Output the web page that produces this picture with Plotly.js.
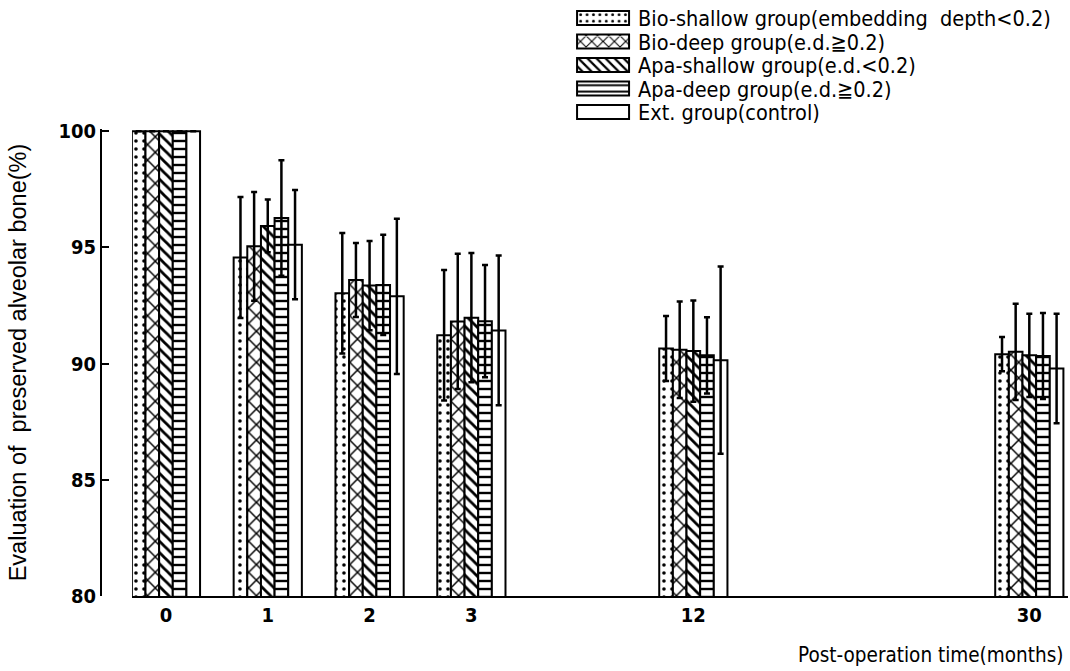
<!DOCTYPE html>
<html>
<head>
<meta charset="utf-8">
<script src="https://cdn.plot.ly/plotly-3.0.1.min.js"></script>
<style>html,body{margin:0;padding:0;background:#fff;}#chart{width:1070px;height:671px;}</style>
</head>
<body>
<div id="chart"></div>
<script>
// ---- data ----
const timeLabels = ['0', '1', '2', '3', '12', '30'];
// drawing slots of the non-linear time axis of the original figure
const timeSlots = [0, 1, 2, 3, 5.18, 8.48];

const seriesNames = [
  'Bio-shallow group(embedding  depth&lt;0.2)',
  'Bio-deep group(e.d.≧0.2)',
  'Apa-shallow group(e.d.&lt;0.2)',
  'Apa-deep group(e.d.≧0.2)',
  'Ext. group(control)'
];

const bioShallow    = [100, 94.57, 93.03, 91.22, 90.65, 90.41];
const bioShallowErr = [null, 2.6, 2.59, 2.81, 1.4, 0.74];
const bioDeep       = [100, 95.05, 93.6, 91.82, 90.6, 90.51];
const bioDeepErr    = [null, 2.34, 1.59, 2.91, 2.08, 2.07];
const apaShallow    = [100, 95.93, 93.36, 91.98, 90.54, 90.36];
const apaShallowErr = [null, 1.14, 1.92, 2.78, 2.18, 1.79];
const apaDeep       = [100, 96.27, 93.39, 91.83, 90.36, 90.33];
const apaDeepErr    = [null, 2.49, 2.16, 2.42, 1.64, 1.85];
const ext           = [100, 95.12, 92.9, 91.43, 90.15, 89.79];
const extErr        = [null, 2.35, 3.34, 3.22, 4.03, 2.36];

const values = [bioShallow, bioDeep, apaShallow, apaDeep, ext];
const errors = [bioShallowErr, bioDeepErr, apaShallowErr, apaDeepErr, extErr];

// ---- styles ----
const patterns = [
  {shape: '.', size: 8, solidity: 0.16},
  {shape: 'x', size: 11, solidity: 0.25},
  {shape: '\\', size: 8, solidity: 0.35},
  {shape: '-', size: 8, solidity: 0.3},
  {shape: '', size: 8, solidity: 0.3}
];

const FONT_NARROW = '"Liberation Sans Narrow", "DejaVu Sans Condensed", "Arial Narrow", sans-serif';
const FONT_REG = '"Liberation Sans", Arial, sans-serif';

const traces = values.map((v, i) => ({
  type: 'bar',
  name: seriesNames[i],
  x: timeSlots,
  y: v,
  marker: {
    color: '#ffffff',
    line: {color: '#000000', width: 2},
    pattern: Object.assign({fgcolor: '#000000', bgcolor: '#ffffff', fillmode: 'replace'}, patterns[i])
  },
  error_y: {type: 'data', array: errors[i], visible: true, color: '#000000', thickness: 2.5, width: 3},
  hoverinfo: 'skip'
}));

const layout = {
  width: 1070,
  height: 671,
  margin: {l: 101, r: 2, t: 129, b: 75, autoexpand: false},
  paper_bgcolor: '#ffffff',
  plot_bgcolor: '#ffffff',
  barmode: 'group',
  bargap: 0.33,
  bargroupgap: 0,
  showlegend: true,
  legend: {
    x: 0.483, y: 1.2817, xanchor: 'left', yanchor: 'top',
    traceorder: 'normal',
    itemwidth: 60,
    bgcolor: 'rgba(0,0,0,0)',
    font: {family: FONT_NARROW, size: 21.5, color: '#000'},
    tracegroupgap: 0
  },
  xaxis: {
    domain: [0.032, 1],
    anchor: 'y',
    range: [-0.334, 8.86],
    tickvals: timeSlots,
    ticktext: timeLabels,
    ticks: '',
    showgrid: false,
    zeroline: false,
    showline: true,
    linecolor: '#000',
    linewidth: 2,
    tickfont: {family: FONT_NARROW, size: 20, color: '#000', weight: 'bold'}
  },
  yaxis: {
    anchor: 'free',
    position: 0,
    range: [80, 100.1],
    tickvals: [80, 85, 90, 95, 100],
    ticktext: ['80', '85', '90', '95', '100'],
    ticks: 'inside',
    ticklen: 7,
    tickwidth: 2,
    tickcolor: '#000',
    showgrid: false,
    zeroline: false,
    showline: true,
    linecolor: '#000',
    linewidth: 2,
    tickfont: {family: FONT_NARROW, size: 20, color: '#000', weight: 'bold'}
  },
  annotations: [
    {
      text: 'Evaluation of  preserved alveolar bone(%)',
      xref: 'paper', yref: 'paper',
      x: -0.086, y: 0.5, xanchor: 'center', yanchor: 'middle',
      textangle: -90, showarrow: false,
      font: {family: FONT_REG, size: 23.5, color: '#000'}
    },
    {
      text: 'Post-operation time(months)',
      xref: 'paper', yref: 'paper',
      x: 0.997, y: -0.126, xanchor: 'right', yanchor: 'middle',
      showarrow: false,
      font: {family: FONT_NARROW, size: 20.5, color: '#000'}
    }
  ]
};

Plotly.newPlot('chart', traces, layout, {staticPlot: true}).then(function (gd) {
  // widen legend swatches to long patterned boxes like the original
  gd.querySelectorAll('.legend g.legendpoints path').forEach(function (p) {
    p.setAttribute('d', 'M-26,-7H26V7H-26Z');
  });
  // tighter row spacing as in the original legend
  const items = gd.querySelectorAll('.legend .traces');
  let x0 = 0, y0 = null;
  items.forEach(function (g, i) {
    const m = /translate\(\s*([-\d.]+)[ ,]+([-\d.]+)\s*\)/.exec(g.getAttribute('transform') || '');
    if (!m) return;
    if (y0 === null) { x0 = parseFloat(m[1]); y0 = parseFloat(m[2]); }
    g.setAttribute('transform', 'translate(' + x0 + ',' + (y0 + i * 23.5) + ')');
  });
});
</script>
</body>
</html>
